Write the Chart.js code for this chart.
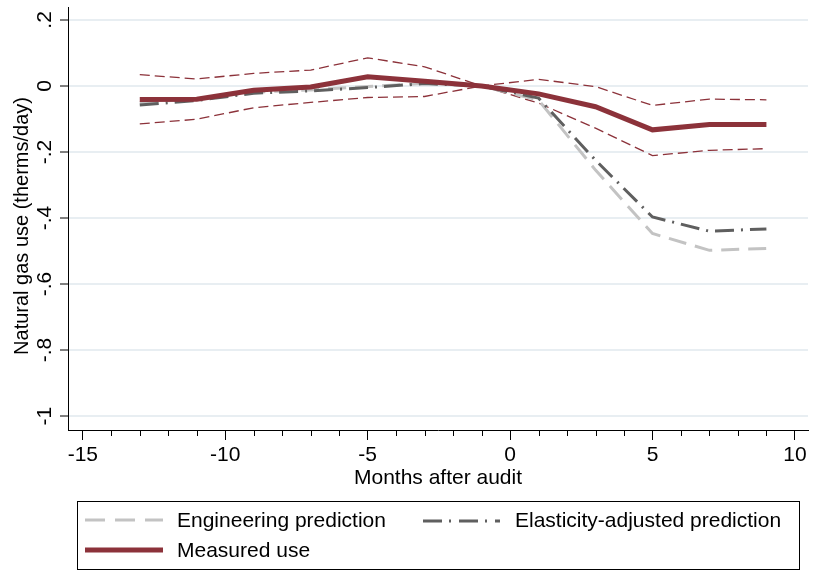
<!DOCTYPE html>
<html>
<head>
<meta charset="utf-8">
<script src="https://cdn.jsdelivr.net/npm/chart.js@4/dist/chart.umd.min.js"></script>
<style>
  body { margin: 0; background: #fff; }
  canvas { display: block; }
</style>
</head>
<body>
<canvas id="chart" width="813" height="571"></canvas>
<script>
// --- DATOS ---
const meses = [-13, -11, -9, -7, -5, -3, -1, 1, 3, 5, 7, 9];
const medido = [-0.041, -0.040, -0.013, -0.003, 0.028, 0.014, 0, -0.024, -0.063, -0.133, -0.117, -0.117];
const ingenieria = [-0.050, -0.040, -0.019, -0.012, -0.002, 0.008, 0, -0.043, -0.255, -0.447, -0.498, -0.492];
const elasticidad = [-0.058, -0.044, -0.022, -0.015, -0.005, 0.007, 0, -0.037, -0.225, -0.397, -0.440, -0.433];
const icSuperior = [0.034, 0.021, 0.038, 0.048, 0.085, 0.058, 0, 0.020, -0.002, -0.059, -0.040, -0.042];
const icInferior = [-0.115, -0.101, -0.066, -0.050, -0.035, -0.032, 0, -0.052, -0.128, -0.211, -0.195, -0.190];
const ticksX = [-15, -10, -5, 0, 5, 10];
const ticksY = [-1, -0.8, -0.6, -0.4, -0.2, 0, 0.2];

const FUENTE = 'Liberation Sans, Arial, sans-serif';
const ROJO = '#8c323a';
const GRIS_CLARO = '#c3c3c3';
const GRIS_OSCURO = '#5f5f5f';

const puntos = serie => serie.map((v, i) => ({ x: meses[i], y: v }));

// --- LEYENDA, TITULO Y Y TICKS MENORES ---
const extras = {
  id: 'extras',
  afterDraw(chart) {
    const ctx = chart.ctx;
    const xs = chart.scales.x;
    const base = chart.chartArea.bottom;
    ctx.save();
    ctx.strokeStyle = '#000';
    ctx.lineWidth = 1;
    for (let m = -15; m <= 10; m++) {
      if (m % 5 === 0) continue;
      const px = Math.round(xs.getPixelForValue(m)) + 0.5;
      ctx.beginPath();
      ctx.moveTo(px, base);
      ctx.lineTo(px, base + 6);
      ctx.stroke();
    }

    // titulo del eje y (algo mas abajo que el centro del area)
    ctx.save();
    ctx.translate(22, 226);
    ctx.rotate(-Math.PI / 2);
    ctx.font = '20px ' + FUENTE;
    ctx.fillStyle = '#000';
    ctx.textAlign = 'center';
    ctx.textBaseline = 'middle';
    ctx.fillText('Natural gas use (therms/day)', 0, 0);
    ctx.restore();

    // caja de la leyenda
    ctx.strokeRect(77.5, 501.5, 722, 68);

    const muestra = (x1, x2, y, ds) => {
      ctx.save();
      ctx.strokeStyle = ds.borderColor;
      ctx.lineWidth = ds.borderWidth;
      ctx.setLineDash(ds.legendDash || []);
      ctx.beginPath();
      ctx.moveTo(x1, y);
      ctx.lineTo(x2, y);
      ctx.stroke();
      ctx.restore();
    };
    const ds = chart.data.datasets;
    ctx.font = '21px ' + FUENTE;
    ctx.fillStyle = '#000';
    ctx.textBaseline = 'middle';
    muestra(85, 163, 520, ds[2]);
    ctx.fillText(ds[2].label, 177, 521);
    muestra(423, 500, 521, ds[1]);
    ctx.fillText(ds[1].label, 515, 521);
    muestra(85, 163, 550, ds[0]);
    ctx.fillText(ds[0].label, 177, 551);
    ctx.restore();
  }
};

const ctx = document.getElementById('chart').getContext('2d');
const chart = new Chart(ctx, {
  type: 'line',
  data: {
    datasets: [
      {
        label: 'Measured use',
        data: puntos(medido),
        borderColor: ROJO,
        borderWidth: 5,
        legendDash: []
      },
      {
        label: 'Elasticity-adjusted prediction',
        data: puntos(elasticidad),
        borderColor: GRIS_OSCURO,
        borderWidth: 3,
        borderDash: [19, 7, 2, 7],
        legendDash: [19, 7, 2, 8]
      },
      {
        label: 'Engineering prediction',
        data: puntos(ingenieria),
        borderColor: GRIS_CLARO,
        borderWidth: 3,
        borderDash: [18, 9],
        legendDash: [20, 10]
      },
      {
        label: 'Upper CI',
        data: puntos(icSuperior),
        borderColor: ROJO,
        borderWidth: 1.3,
        borderDash: [10, 5]
      },
      {
        label: 'Lower CI',
        data: puntos(icInferior),
        borderColor: ROJO,
        borderWidth: 1.3,
        borderDash: [10, 5]
      }
    ]
  },
  options: {
    responsive: false,
    animation: false,
    elements: {
      point: { radius: 0 },
      line: { tension: 0, fill: false, borderCapStyle: 'butt' }
    },
    layout: { padding: { top: 7, right: 5, bottom: 80, left: 0 } },
    plugins: {
      legend: { display: false },
      tooltip: { enabled: false }
    },
    scales: {
      x: {
        type: 'linear',
        min: -15.52,
        max: 10.46,
        afterBuildTicks: s => { s.ticks = ticksX.map(v => ({ value: v })); },
        afterFit: s => { s.height = 61; s.paddingLeft = 0; s.paddingRight = 0; },
        ticks: {
          color: '#000',
          padding: 3,
          maxRotation: 0,
          autoSkip: false,
          font: { family: FUENTE, size: 21 }
        },
        grid: {
          drawOnChartArea: false,
          tickLength: 10,
          tickColor: '#000',
          tickWidth: 1
        },
        border: { color: '#000', width: 1 },
        title: {
          display: true,
          text: 'Months after audit',
          color: '#000',
          padding: { top: 0, bottom: 0 },
          font: { family: FUENTE, size: 21 }
        }
      },
      y: {
        min: -1.042,
        max: 0.239,
        afterBuildTicks: s => { s.ticks = ticksY.map(v => ({ value: v })); },
        afterFit: s => { s.width = 68; s.paddingTop = 0; s.paddingBottom = 0; },
        ticks: {
          color: '#000',
          padding: 3,
          minRotation: 90,
          maxRotation: 90,
          crossAlign: 'center',
          font: { family: FUENTE, size: 21 },
          callback: v => {
            const r = Math.round(v * 10) / 10;
            if (r === 0) return '0';
            return r.toString().replace('0.', '.');
          }
        },
        grid: {
          color: '#e8eef2',
          lineWidth: 2,
          tickLength: 8,
          tickColor: '#000',
          tickWidth: 1
        },
        border: { color: '#000', width: 1 }
      }
    }
  },
  plugins: [extras]
});
</script>
</body>
</html>
